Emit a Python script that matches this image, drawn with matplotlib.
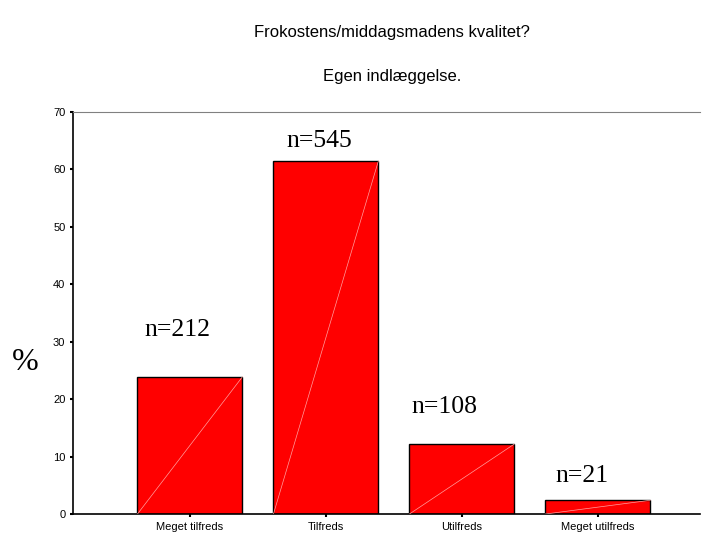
import numpy as np
import matplotlib.pyplot as plt

categories = ["Meget tilfreds", "Tilfreds", "Utilfreds", "Meget utilfreds"]
counts = [212, 545, 108, 21]
percent = [23.9, 61.5, 12.2, 2.4]
label_y = [32.0, 65.0, 18.6, 6.6]
label_dx = [-0.09, -0.05, -0.13, -0.12]

fig = plt.figure(figsize=(7.02, 5.36), dpi=100)
ax = fig.add_axes([0.104, 0.041, 0.893, 0.750])

x = np.arange(len(categories))
w = 0.772
ax.bar(x, percent, width=w, color="#ff0000", edgecolor="black", linewidth=1.0, zorder=2)

# thin light diagonal inside each bar
for xi, p in zip(x, percent):
    ax.plot([xi - w / 2, xi + w / 2], [0, p], color="#ffa0a0", lw=0.5, zorder=3)

for xi, n, ly, dx in zip(x, counts, label_y, label_dx):
    ax.text(xi + dx, ly, f"n={n}", ha="center", va="center",
            family="Liberation Serif", fontsize=18.5)

ax.set_xlim(-0.86, 3.75)
ax.set_ylim(0, 70)
ax.set_yticks(range(0, 71, 10))
ax.set_xticks(x)
ax.set_xticklabels(categories)
ax.tick_params(axis="both", direction="out", length=2.5, width=1.5, labelsize=8, pad=3)
for lab in ax.get_xticklabels() + ax.get_yticklabels():
    lab.set_family("Liberation Sans")

ax.spines["right"].set_visible(False)
ax.spines["top"].set_color("#808080")
ax.spines["left"].set_linewidth(1.2)
ax.spines["bottom"].set_linewidth(1.2)

fig.text(25 / 702, 1 - 362 / 536, "%", family="Liberation Serif", fontsize=23,
         ha="center", va="center")
fig.text(392 / 702, 1 - 33 / 536, "Frokostens/middagsmadens kvalitet?",
         family="Liberation Sans", fontsize=12, ha="center", va="center")
fig.text(392 / 702, 1 - 77 / 536, "Egen indlæggelse.",
         family="Liberation Sans", fontsize=12, ha="center", va="center")

fig.savefig("out.png", dpi=100)
